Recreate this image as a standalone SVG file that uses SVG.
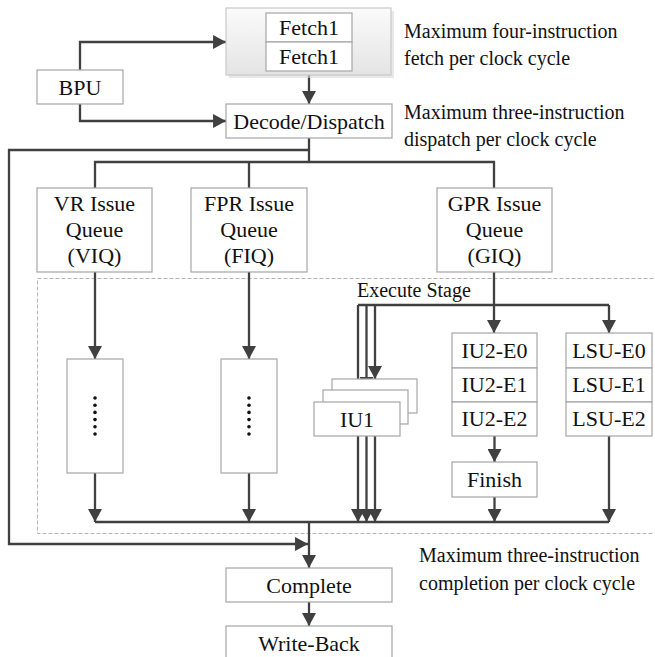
<svg xmlns="http://www.w3.org/2000/svg" width="655" height="657" viewBox="0 0 655 657">
<style>
.box{fill:#fff;stroke:#a6a6a6;stroke-width:1.2}
.t{font-family:"Liberation Serif","Times New Roman",serif;font-size:22px;fill:#111;text-anchor:middle}
.a{font-family:"Liberation Serif","Times New Roman",serif;font-size:20px;fill:#111}
.c{fill:none;stroke:#404040;stroke-width:2.3}
.ar{marker-end:url(#arr)}
</style>
<defs>
<marker id="arr" markerUnits="userSpaceOnUse" markerWidth="14" markerHeight="14" viewBox="0 0 12 13" refX="12" refY="6.5" orient="auto">
<path d="M0,0 L12,6.5 L0,13 Z" fill="#404040"/>
</marker>
<linearGradient id="pg" x1="0" y1="0" x2="0" y2="1">
<stop offset="0" stop-color="#fbfbfb"/>
<stop offset="1" stop-color="#e4e4e4"/>
</linearGradient>
</defs>
<rect width="655" height="657" fill="#fff"/>
<rect id="execute-region" x="37.5" y="278.5" width="630" height="255" fill="none" stroke="#b5b5b5" stroke-width="1" stroke-dasharray="4,2"/>
<g id="connectors">
<path class="c ar" d="M80,70 V42 H226"/>
<path class="c ar" d="M80,104 V121 H226"/>
<path class="c ar" d="M309,75 V104"/>
<path class="c" d="M309,138 V162"/>
<path class="c ar" d="M309,150 H9 V544 H308"/>
<path class="c" d="M95,188 V162 H494 V188"/>
<path class="c" d="M249,162 V188"/>
<path class="c ar" d="M95,272 V359"/>
<path class="c ar" d="M249,272 V359"/>
<path class="c ar" d="M494,272 V333"/>
<path class="c ar" d="M609,305 V333"/>
<path class="c" d="M358,305 H609"/>
<path class="c ar" d="M358,305 V402"/>
<path class="c ar" d="M366.5,305 V390"/>
<path class="c ar" d="M375,305 V379"/>
<path class="c ar" d="M494.5,436 V462"/>
<path class="c ar" d="M95,473 V522"/>
<path class="c ar" d="M249,473 V522"/>
<path class="c ar" d="M358,436 V522"/>
<path class="c ar" d="M366.5,436 V522"/>
<path class="c ar" d="M375,436 V522"/>
<path class="c ar" d="M494.5,497 V522"/>
<path class="c ar" d="M609,436 V522"/>
<path class="c" d="M95,522 H609"/>
<path class="c ar" d="M309,522 V568"/>
<path class="c ar" d="M309,602 V626"/>
</g>
<g id="fetch">
<rect x="229" y="11" width="165" height="67" fill="#d8d8d8" opacity="0.6"/>
<rect x="226" y="8" width="165" height="67" fill="url(#pg)" stroke="#c9c9c9" stroke-width="1.2"/>
<rect class="box" x="266" y="13" width="86" height="29"/>
<rect class="box" x="266" y="42" width="86" height="29"/>
<text class="t" x="309" y="35">Fetch1</text>
<text class="t" x="309" y="64">Fetch1</text>
</g>
<g id="bpu"><rect class="box" x="37" y="70" width="86" height="34"/><text class="t" x="80" y="95">BPU</text></g>
<g id="decode"><rect class="box" x="226" y="104" width="166" height="34"/><text class="t" x="309" y="129">Decode/Dispatch</text></g>
<g id="viq"><rect class="box" x="37" y="188" width="115" height="84"/>
<text class="t" x="94.5" y="211">VR Issue</text><text class="t" x="94.5" y="237">Queue</text><text class="t" x="94.5" y="263">(VIQ)</text></g>
<g id="fiq"><rect class="box" x="191" y="188" width="116" height="84"/>
<text class="t" x="249" y="211">FPR Issue</text><text class="t" x="249" y="237">Queue</text><text class="t" x="249" y="263">(FIQ)</text></g>
<g id="giq"><rect class="box" x="437" y="188" width="115" height="84"/>
<text class="t" x="494.5" y="211">GPR Issue</text><text class="t" x="494.5" y="237">Queue</text><text class="t" x="494.5" y="263">(GIQ)</text></g>
<text class="a" x="357" y="297">Execute Stage</text>
<g id="vr-unit"><rect class="box" x="67" y="359" width="56" height="114"/>
<g fill="#111"><circle cx="95" cy="398" r="1.8"/><circle cx="95" cy="405.2" r="1.8"/><circle cx="95" cy="412.4" r="1.8"/><circle cx="95" cy="419.6" r="1.8"/><circle cx="95" cy="426.8" r="1.8"/><circle cx="95" cy="434" r="1.8"/></g></g>
<g id="fpr-unit"><rect class="box" x="221" y="359" width="56" height="114"/>
<g fill="#111"><circle cx="249" cy="398" r="1.8"/><circle cx="249" cy="405.2" r="1.8"/><circle cx="249" cy="412.4" r="1.8"/><circle cx="249" cy="419.6" r="1.8"/><circle cx="249" cy="426.8" r="1.8"/><circle cx="249" cy="434" r="1.8"/></g></g>
<g id="iu1">
<rect class="box" x="332" y="379" width="85" height="34"/>
<rect class="box" x="323" y="390" width="85" height="34"/>
<rect class="box" x="314" y="402" width="86" height="34"/>
<text class="t" x="357" y="427">IU1</text>
</g>
<g id="iu2">
<rect class="box" x="452" y="333" width="85" height="35"/><text class="t" x="494.5" y="358">IU2-E0</text>
<rect class="box" x="452" y="368" width="85" height="34"/><text class="t" x="494.5" y="392">IU2-E1</text>
<rect class="box" x="452" y="402" width="85" height="34"/><text class="t" x="494.5" y="426">IU2-E2</text>
</g>
<g id="lsu">
<rect class="box" x="566" y="333" width="86" height="35"/><text class="t" x="609" y="358">LSU-E0</text>
<rect class="box" x="566" y="368" width="86" height="34"/><text class="t" x="609" y="392">LSU-E1</text>
<rect class="box" x="566" y="402" width="86" height="34"/><text class="t" x="609" y="426">LSU-E2</text>
</g>
<g id="finish"><rect class="box" x="452" y="462" width="85" height="35"/><text class="t" x="494.5" y="487">Finish</text></g>
<g id="complete"><rect class="box" x="226" y="568" width="166" height="34"/><text class="t" x="309" y="593">Complete</text></g>
<g id="writeback"><rect class="box" x="226" y="626" width="166" height="40"/><text class="t" x="309" y="651">Write-Back</text></g>
<g id="annotations">
<text class="a" x="404" y="38">Maximum four-instruction</text>
<text class="a" x="404" y="65">fetch per clock cycle</text>
<text class="a" x="404" y="119">Maximum three-instruction</text>
<text class="a" x="404" y="146">dispatch per clock cycle</text>
<text class="a" x="419" y="562">Maximum three-instruction</text>
<text class="a" x="419" y="590">completion per clock cycle</text>
</g>
</svg>
